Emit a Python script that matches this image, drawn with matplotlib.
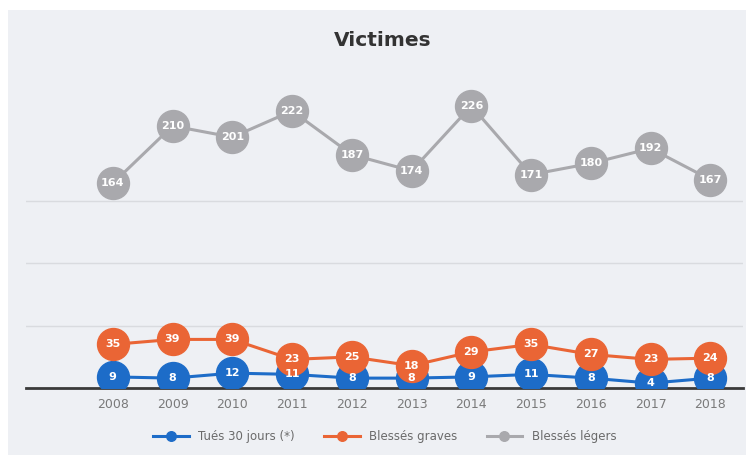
import numpy as np
import matplotlib
matplotlib.use("Agg")
import matplotlib.pyplot as plt
from matplotlib.patches import Rectangle

# données
annees = ["2008", "2009", "2010", "2011", "2012", "2013", "2014", "2015", "2016", "2017", "2018"]
tues = [9, 8, 12, 11, 8, 8, 9, 11, 8, 4, 8]
graves = [35, 39, 39, 23, 25, 18, 29, 35, 27, 23, 24]
legers = [164, 210, 201, 222, 187, 174, 226, 171, 180, 192, 167]

series = [
    ("Tués 30 jours (*)", tues, "#1d6cc8"),
    ("Blessés graves", graves, "#ea6535"),
    ("Blessés légers", legers, "#a9a9ad"),
]

fig = plt.figure(figsize=(7.47, 4.55), dpi=100)
fig.patch.set_facecolor("white")
# fond du graphique (cadre scanné)
fig.patches.append(Rectangle((0.011, 0.0), 0.987, 0.978, transform=fig.transFigure,
                             facecolor="#eef0f4", edgecolor="none", zorder=-5))

ax = fig.add_axes([0.035, 0.147, 0.96, 0.686])
ax.set_facecolor("none")

x = np.arange(len(annees))
for nom, vals, col in series:
    ax.plot(x, vals, color=col, lw=2.2, marker="o", ms=23, mfc=col, mec=col, label=nom, zorder=3)
    for xi, v in zip(x, vals):
        ax.text(xi, v, str(v), ha="center", va="center", color="white",
                fontsize=8, fontweight="bold", zorder=4)

ax.set_xlim(-1.45, 10.55)
ax.set_ylim(0, 250)
ax.set_yticks([0, 50, 100, 150])
ax.yaxis.grid(True, color="#d9dbdf", lw=1)
ax.set_axisbelow(True)
ax.tick_params(left=False, labelleft=False, bottom=False)
ax.set_xticks(x)
ax.set_xticklabels(annees, color="#7a7a7a", fontsize=9)
for s in ["top", "right", "left"]:
    ax.spines[s].set_visible(False)
ax.spines["bottom"].set_color("#3a3a3a")
ax.spines["bottom"].set_linewidth(2)

fig.text(0.513, 0.912, "Victimes", ha="center", va="center", fontsize=14.5,
         fontweight="bold", color="#333333")

handles, labels = ax.get_legend_handles_labels()
leg = fig.legend(handles, labels, loc="center", bbox_to_anchor=(0.515, 0.04), ncol=3,
                 frameon=False, fontsize=8.5, handlelength=3, markerscale=0.3,
                 labelcolor="#6a6a6a", columnspacing=2.5)

fig.savefig("out.png", dpi=100, facecolor=fig.get_facecolor())
